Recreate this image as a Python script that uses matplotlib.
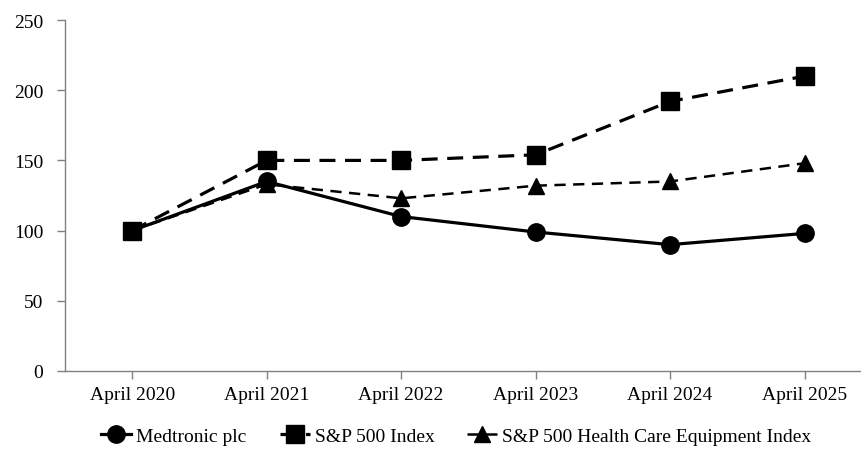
import matplotlib
matplotlib.use("Agg")
import matplotlib.pyplot as plt

plt.rcParams['font.family'] = ['Liberation Serif', 'DejaVu Serif']

years = ["April 2020", "April 2021", "April 2022", "April 2023", "April 2024", "April 2025"]
medtronic = [100, 135, 110, 99, 90, 98]
sp500 = [100, 150, 150, 154, 192, 210]
hc_equipment = [100, 133, 123, 132, 135, 148]
y_ticks = [0, 50, 100, 150, 200, 250]

fig = plt.figure(figsize=(8.61, 4.52), dpi=100)
ax = fig.add_axes([0.0755, 0.177, 0.937, 0.7765])

x = list(range(len(years)))

# 描画順: HC -> Medtronic -> S&P
l_hc, = ax.plot(x, hc_equipment, color='black', linewidth=1.8, linestyle=(0, (4.5, 3)),
                marker='^', markersize=12, zorder=3)
l_md, = ax.plot(x, medtronic, color='black', linewidth=2.3, linestyle='-',
                marker='o', markersize=12.5, zorder=4)
l_sp, = ax.plot(x, sp500, color='black', linewidth=2.3, linestyle=(0, (5, 3)),
                marker='s', markersize=13, zorder=5)

ax.set_xlim(-0.5, 5.5)
ax.set_ylim(0, 250)
ax.set_yticks(y_ticks)
ax.set_xticks(x)
ax.set_xticklabels(years)

for side in ['top', 'right']:
    ax.spines[side].set_visible(False)
for side in ['left', 'bottom']:
    ax.spines[side].set_color('#808080')
    ax.spines[side].set_linewidth(1.0)

ax.tick_params(axis='both', colors='#808080', labelcolor='black', labelsize=14,
               length=5.5, width=1.0)
ax.tick_params(axis='x', pad=5)
ax.tick_params(axis='y', pad=10)

fig.legend([l_md, l_sp, l_hc], ["Medtronic plc", "S&P 500 Index", "S&P 500 Health Care Equipment Index"],
           loc='center', bbox_to_anchor=(0.53, 0.033), ncol=3, frameon=False,
           fontsize=14, handlelength=1.55, columnspacing=1.7, handletextpad=0.25)

fig.savefig("out.png", dpi=100)
